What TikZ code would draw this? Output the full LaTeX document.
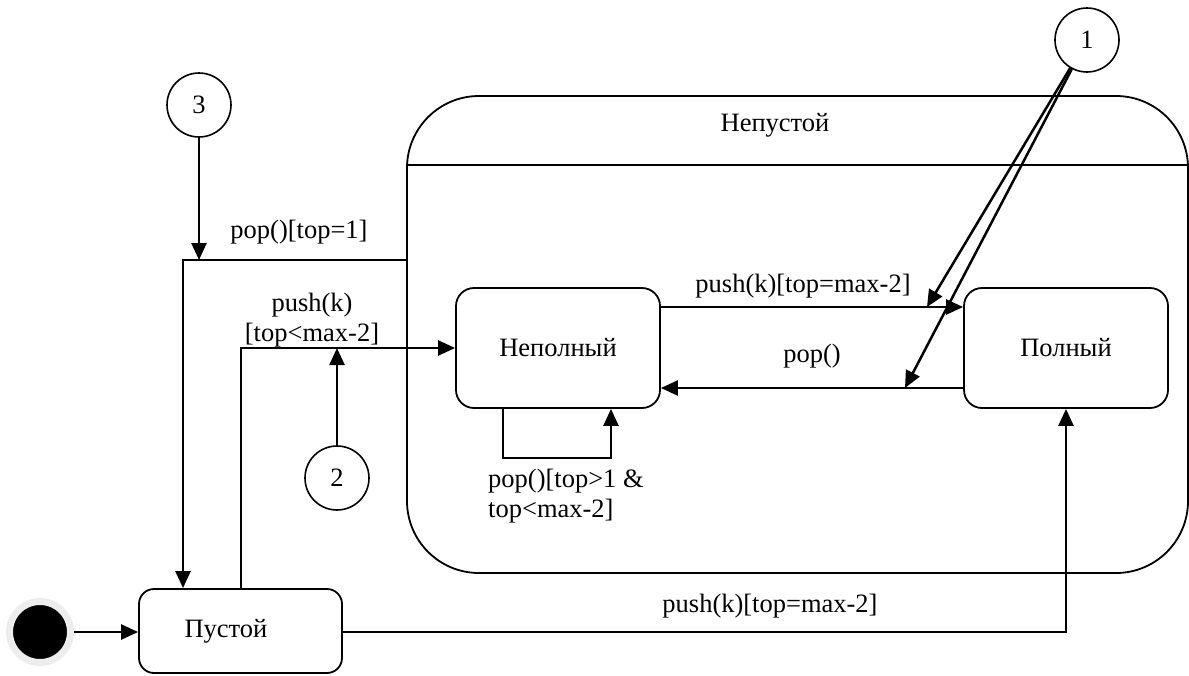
\documentclass[tikz,border=0pt]{standalone}
\usepackage{fontspec}
\setmainfont{Liberation Serif}
\usetikzlibrary{arrows.meta}
\begin{document}
\begin{tikzpicture}[x=1pt,y=-1pt,
  every node/.style={font=\fontsize{26.5pt}{30pt}\selectfont},
  statebox/.style={draw, line width=1.8pt, rounded corners=18pt, minimum width=204pt, minimum height=120pt, inner sep=0pt},
  refcirc/.style={draw, circle, line width=1.6pt, minimum size=64pt, inner sep=0pt},
  tr/.style={line width=2.5pt, -{Triangle[length=17pt,width=15pt]}},
  lbl/.style={inner sep=0pt, align=center}
]
\useasboundingbox (0,0) rectangle (1189,675);
% superstate
\node[draw, line width=1.8pt, rounded corners=72pt, minimum width=781pt, minimum height=477pt, inner sep=0pt] (nepust) at (797.5,334.5) {};
\draw[line width=1.8pt] (nepust.west |- 0,165) -- (nepust.east |- 0,165);
\node[lbl] (nepustlbl) at (775,125) {Непустой};
% states
\node[draw, line width=1.8pt, rounded corners=15pt, minimum width=203pt, minimum height=84pt, inner sep=0pt] (pust) at (240.5,631) {};
\node[lbl] (pusttxt) at (226,631) {Пустой};
\node[statebox] (nepoln) at (558,348) {Неполный};
\node[statebox] (poln) at (1066,348) {Полный};
% initial
\node[circle, fill=black, draw=black!7, line width=7pt, minimum size=61pt, inner sep=0pt] (init) at (40,632) {};
% reference circles
\node[refcirc] (c1) at (1087,40) {1};
\node[refcirc] (c2) at (337,478) {2};
\node[refcirc] (c3) at (199,105) {3};
% helper coordinates
\coordinate (j1) at (183,260);
\coordinate (j2) at (241,348);
\coordinate (t1) at (927,307);
\coordinate (t2) at (905,388);
\coordinate (lp1) at (503,458);
\coordinate (lp2) at (611,458);
\coordinate (jb) at (1066,632);
% transitions
\draw[tr] (init.east |- 0,632) -- (pust.west |- 0,632);
\draw[tr] (nepust.west |- j1) -- (j1) -- (pust.north -| j1);
\draw[tr] (c3) -- (c3 |- j1);
\draw[tr] (pust.north -| j2) -- (j2) -- (nepoln.west);
\draw[tr] (c2) -- (c2 |- nepoln.west);
\draw[tr] (nepoln.east |- 0,307) -- (poln.west |- 0,307);
\draw[tr] (poln.west |- t2) -- (nepoln.east |- t2);
\draw[tr] (c1) -- (t1);
\draw[tr] (c1) -- (t2);
\draw[tr] (nepoln.south -| lp1) -- (lp1) -- (lp2) -- (nepoln.south -| lp2);
\draw[tr] (pust.east |- jb) -- (jb) -- (poln.south);
% labels
\node[lbl] (l1) at (299,232) {pop()[top=1]};
\node[lbl] (l2) at (312,320) {push(k)\\{[}top<max-2]};
\node[lbl] (l3) at (803,286) {push(k)[top=max-2]};
\node[lbl] (l4) at (812,356) {pop()};
\node[lbl, align=left, anchor=west] (l5) at (488,496) {pop()[top>1 \&\\top<max-2]};
\node[lbl] (l6) at (770,606) {push(k)[top=max-2]};
\end{tikzpicture}
\end{document}
